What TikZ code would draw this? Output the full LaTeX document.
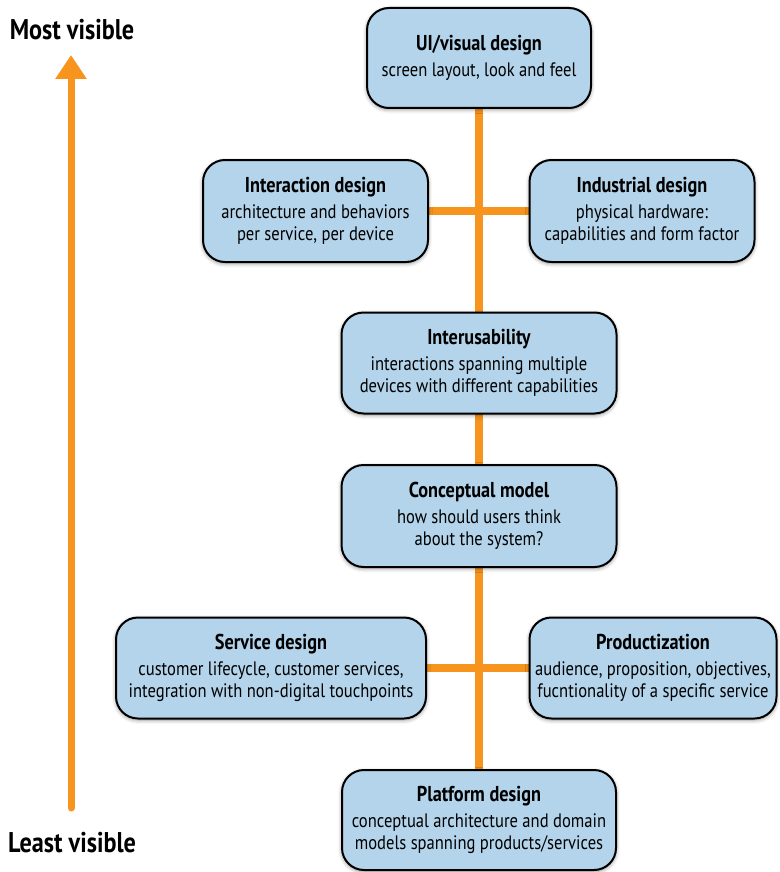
\documentclass[tikz,border=0pt]{standalone}
\usepackage{fontspec}
\setmainfont{PT Sans}[FakeStretch=0.85]
\usetikzlibrary{arrows.meta,shadows.blur,backgrounds}
\definecolor{boxblue}{HTML}{B3D4EA}
\definecolor{lineorange}{HTML}{F7941D}
\tikzset{
  card/.style={draw=black, line width=2pt, fill=boxblue, rounded corners=22pt,
    align=center, inner sep=0pt, font=\fontsize{19.5}{22}\selectfont,
    blur shadow={shadow xshift=0pt, shadow yshift=-1.5pt, shadow blur radius=4pt, shadow opacity=45}},
  link/.style={draw=lineorange, line width=7.5pt},
  endlabel/.style={font=\fontsize{28.5}{30}\selectfont\bfseries, inner sep=0pt}
}
\newcommand{\cardtext}[2]{{\fontsize{21.5}{22}\selectfont\bfseries #1}\\[4pt]#2}
\begin{document}
\begin{tikzpicture}[x=1pt,y=-1pt]
\useasboundingbox (0,0) rectangle (779,872);
\node[card, minimum width=224pt, minimum height=100pt] (ui) at (479,58)
  {\cardtext{UI/visual design}{screen layout, look and feel}};
\node[card, minimum width=225pt, minimum height=102pt] (inter) at (315.5,211)
  {\cardtext{Interaction design}{architecture and behaviors\\per service, per device}};
\node[card, minimum width=225pt, minimum height=102pt] (indus) at (642,211)
  {\cardtext{Industrial design}{physical hardware:\\capabilities and form factor}};
\node[card, minimum width=275pt, minimum height=101pt] (interus) at (479,363)
  {\cardtext{Interusability}{interactions spanning multiple\\devices with different capabilities}};
\node[card, minimum width=275pt, minimum height=102pt] (concept) at (479,516)
  {\cardtext{Conceptual model}{how should users think\\about the system?}};
\node[card, minimum width=310pt, minimum height=101pt] (service) at (271,668)
  {\cardtext{Service design}{customer lifecycle, customer services,\\integration with non-digital touchpoints}};
\node[card, minimum width=247pt, minimum height=101pt] (product) at (653,668)
  {\cardtext{Productization}{audience, proposition, objectives,\\fucntionality of a specific service}};
\node[card, minimum width=274pt, minimum height=100pt] (platform) at (479,820)
  {\cardtext{Platform design}{conceptual architecture and domain\\models spanning products/services}};
\begin{scope}[on background layer]
  \draw[link] (ui.south) -- (platform.north);
  \draw[link] (inter.east) -- (indus.west);
  \draw[link] (service.east) -- (product.west);
\end{scope}
\node[endlabel] (most) at (72,30) {Most visible};
\node[endlabel] (least) at (72,843) {Least visible};
\coordinate (lo) at (71,808);
\coordinate (hi) at (71,55);
\draw[draw=lineorange, line width=7pt, line cap=round,
  -{Triangle[width=30pt,length=24pt,fill=lineorange]}] (lo) -- (hi);
\end{tikzpicture}
\end{document}
